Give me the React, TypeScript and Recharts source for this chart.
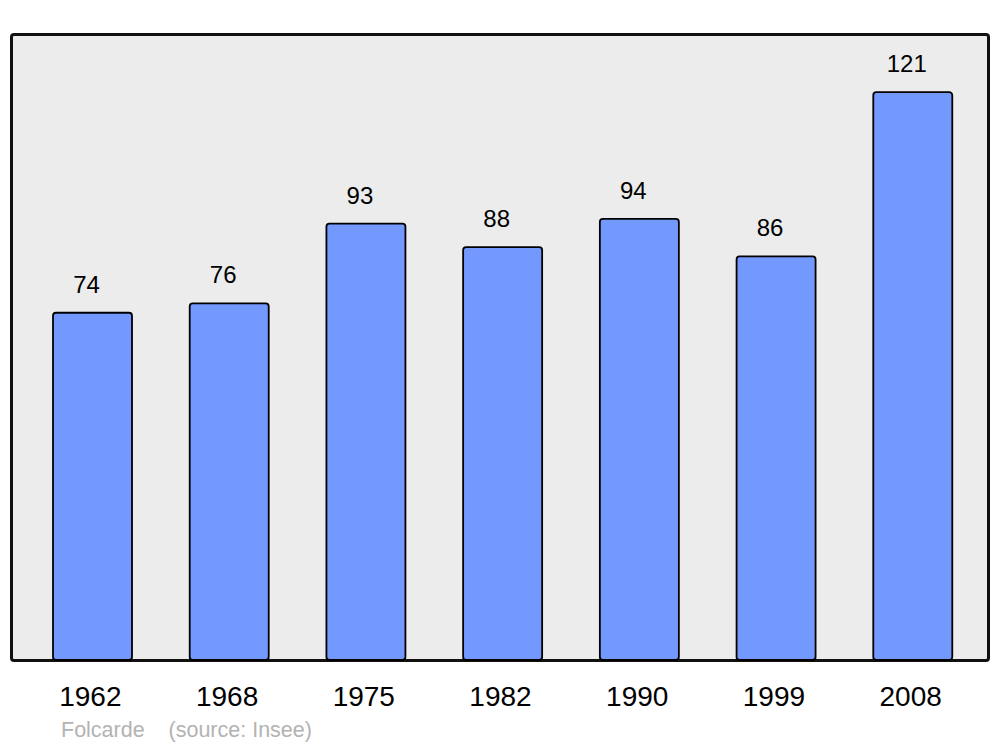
import React from 'react';
import { BarChart, Bar, XAxis, YAxis, LabelList } from 'recharts';

const years = ['1962', '1968', '1975', '1982', '1990', '1999', '2008'];
const population = [74, 76, 93, 88, 94, 86, 121];

const data = years.map((year, i) => ({ year, value: population[i] }));

const FONT = '"Liberation Sans", Arial, sans-serif';

const App: React.FC = () => {
  return (
    <div style={{ position: 'absolute', left: 0, top: 0, width: 1000, height: 747, background: '#fff', fontFamily: FONT }}>
      {/* plot frame */}
      <div
        style={{
          position: 'absolute',
          left: 10,
          top: 33,
          width: 980,
          height: 629,
          boxSizing: 'border-box',
          border: '3px solid #111',
          borderRadius: 4,
          background: '#ececec',
        }}
      />
      <div style={{ position: 'absolute', left: 0, top: 0 }}>
        <BarChart width={1000} height={747} data={data} margin={{ top: 34, right: 11, left: 11, bottom: 0 }}>
          <XAxis
            dataKey="year"
            height={87}
            axisLine={false}
            tickLine={false}
            tickMargin={20}
            padding={{ left: 13, right: 8 }}
            tick={{ fontSize: 28, fill: '#000', fontFamily: FONT, dx: -2 }}
          />
          <YAxis hide domain={[0, 133.4]} />
          <Bar
            dataKey="value"
            barSize={79}
            fill="#7399ff"
            stroke="#000"
            strokeWidth={1.8}
            radius={3}
            isAnimationActive={false}
          >
            <LabelList
              dataKey="value"
              position="top"
              offset={20}
              dx={-6}
              style={{ fontSize: 24, fill: '#000', fontFamily: FONT }}
            />
          </Bar>
        </BarChart>
      </div>
      <div style={{ position: 'absolute', left: 61, top: 718, fontSize: 21.5, color: '#b3b3b3', whiteSpace: 'pre' }}>
        {'Folcarde    (source: Insee)'}
      </div>
    </div>
  );
};

export default App;
